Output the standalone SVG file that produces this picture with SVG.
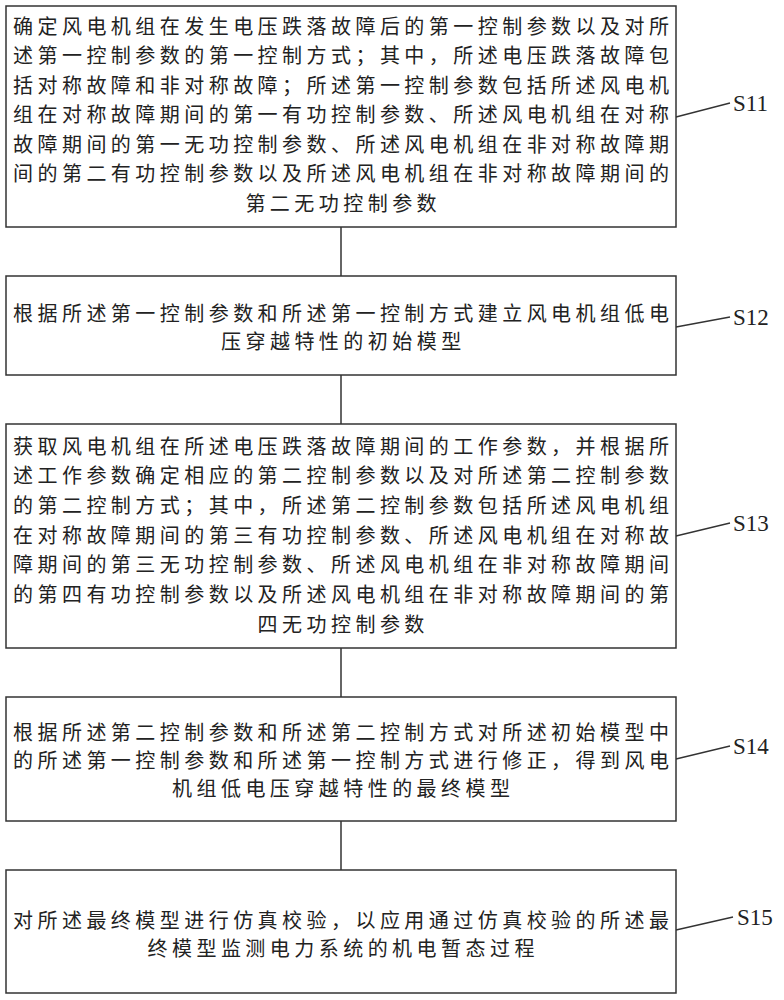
<svg xmlns="http://www.w3.org/2000/svg" width="784" height="1000" viewBox="0 0 784 1000">
<style>
.box{fill:#fff;stroke:#333;stroke-width:1.5}
.t{font-family:"Noto Sans CJK SC",sans-serif;font-size:20px;fill:#222;letter-spacing:4.46px;dominant-baseline:central}
.lbl{font-family:"Liberation Serif","Noto Sans CJK SC",serif;font-size:23px;fill:#222;dominant-baseline:central}
.con{stroke:#333;stroke-width:1.5;fill:none}
.lead{stroke:#333;stroke-width:1.3;fill:none}
</style>
<rect width="784" height="1000" fill="#fff"/>
<g id="connectors">
<line class="con" x1="341" y1="227" x2="341" y2="276"/>
<line class="con" x1="341" y1="375" x2="341" y2="424"/>
<line class="con" x1="341" y1="648" x2="341" y2="697"/>
<line class="con" x1="341" y1="821" x2="341" y2="870"/>
<line class="lead" x1="676" y1="117" x2="730" y2="103"/>
<line class="lead" x1="676" y1="327" x2="730" y2="317"/>
<line class="lead" x1="676" y1="536" x2="730" y2="523"/>
<line class="lead" x1="676" y1="759" x2="730" y2="746"/>
<line class="lead" x1="676" y1="930" x2="733" y2="917"/>
</g>
<g id="S11">
<rect class="box" x="6" y="6" width="670" height="221"/>
<text class="t" x="13" y="25">确定风电机组在发生电压跌落故障后的第一控制参数以及对所</text>
<text class="t" x="13" y="54.5">述第一控制参数的第一控制方式；其中，所述电压跌落故障包</text>
<text class="t" x="13" y="84">括对称故障和非对称故障；所述第一控制参数包括所述风电机</text>
<text class="t" x="13" y="113.5">组在对称故障期间的第一有功控制参数、所述风电机组在对称</text>
<text class="t" x="13" y="143">故障期间的第一无功控制参数、所述风电机组在非对称故障期</text>
<text class="t" x="13" y="172.5">间的第二有功控制参数以及所述风电机组在非对称故障期间的</text>
<text class="t" x="245.4" y="202">第二无功控制参数</text>
<text class="lbl" x="733" y="103">S11</text>
</g>
<g id="S12">
<rect class="box" x="6" y="276" width="670" height="99"/>
<text class="t" x="13" y="312">根据所述第一控制参数和所述第一控制方式建立风电机组低电</text>
<text class="t" x="221" y="340">压穿越特性的初始模型</text>
<text class="lbl" x="733" y="317">S12</text>
</g>
<g id="S13">
<rect class="box" x="6" y="424" width="670" height="224"/>
<text class="t" x="13" y="445">获取风电机组在所述电压跌落故障期间的工作参数，并根据所</text>
<text class="t" x="13" y="474.7">述工作参数确定相应的第二控制参数以及对所述第二控制参数</text>
<text class="t" x="13" y="504.3">的第二控制方式；其中，所述第二控制参数包括所述风电机组</text>
<text class="t" x="13" y="534">在对称故障期间的第三有功控制参数、所述风电机组在对称故</text>
<text class="t" x="13" y="563.7">障期间的第三无功控制参数、所述风电机组在非对称故障期间</text>
<text class="t" x="13" y="593.3">的第四有功控制参数以及所述风电机组在非对称故障期间的第</text>
<text class="t" x="257.6" y="623">四无功控制参数</text>
<text class="lbl" x="733" y="523">S13</text>
</g>
<g id="S14">
<rect class="box" x="6" y="697" width="670" height="124"/>
<text class="t" x="13" y="731">根据所述第二控制参数和所述第二控制方式对所述初始模型中</text>
<text class="t" x="13" y="759">的所述第一控制参数和所述第一控制方式进行修正，得到风电</text>
<text class="t" x="172" y="787">机组低电压穿越特性的最终模型</text>
<text class="lbl" x="733" y="746">S14</text>
</g>
<g id="S15">
<rect class="box" x="6" y="870" width="670" height="123"/>
<text class="t" x="13" y="919">对所述最终模型进行仿真校验，以应用通过仿真校验的所述最</text>
<text class="t" x="147.5" y="947">终模型监测电力系统的机电暂态过程</text>
<text class="lbl" x="737" y="917">S15</text>
</g>
</svg>
